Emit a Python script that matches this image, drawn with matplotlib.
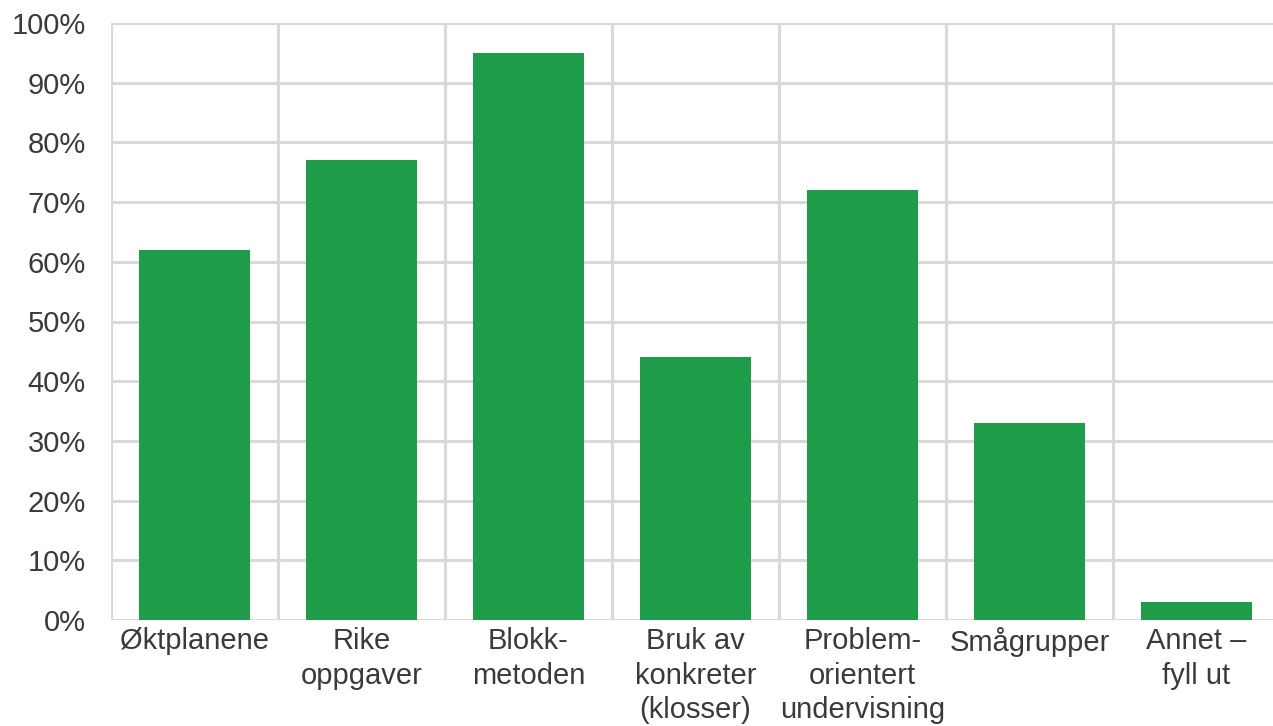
import matplotlib.pyplot as plt
from matplotlib.ticker import PercentFormatter

categories = ["Øktplanene", "Rike\noppgaver", "Blokk-\nmetoden", "Bruk av\nkonkreter\n(klosser)",
              "Problem-\norientert\nundervisning", "Smågrupper", "Annet –\nfyll ut"]
values = [62, 77, 95, 44, 72, 33, 3]
yticks = [0, 10, 20, 30, 40, 50, 60, 70, 80, 90, 100]

plt.rcParams['font.family'] = ['Liberation Sans', 'DejaVu Sans']
grid_color = "#d9d9d9"
text_color = "#3a3a3a"

fig = plt.figure(figsize=(12.73, 7.26), dpi=100)
ax = fig.add_axes([111/1273, 106/726, 1169/1273, 597/726])

x = range(len(categories))
ax.bar(x, values, width=0.665, color="#1e9c4a", zorder=3)

ax.set_xlim(-0.5, len(categories) - 0.5)
ax.set_ylim(0, 100)
ax.set_yticks(yticks)
ax.yaxis.set_major_formatter(PercentFormatter(decimals=0))
ax.set_xticks(list(x))
ax.set_xticklabels(categories, linespacing=1.3)

for y in yticks:
    ax.axhline(y, color=grid_color, lw=2.2, zorder=1)
for i in range(len(categories) + 1):
    ax.axvline(i - 0.5, color=grid_color, lw=2.2, zorder=1)

for s in ax.spines.values():
    s.set_visible(False)
ax.tick_params(axis="both", length=0, labelsize=21, colors=text_color)
ax.tick_params(axis="y", pad=18)
ax.tick_params(axis="x", pad=5)

fig.savefig("out.png", dpi=100)
